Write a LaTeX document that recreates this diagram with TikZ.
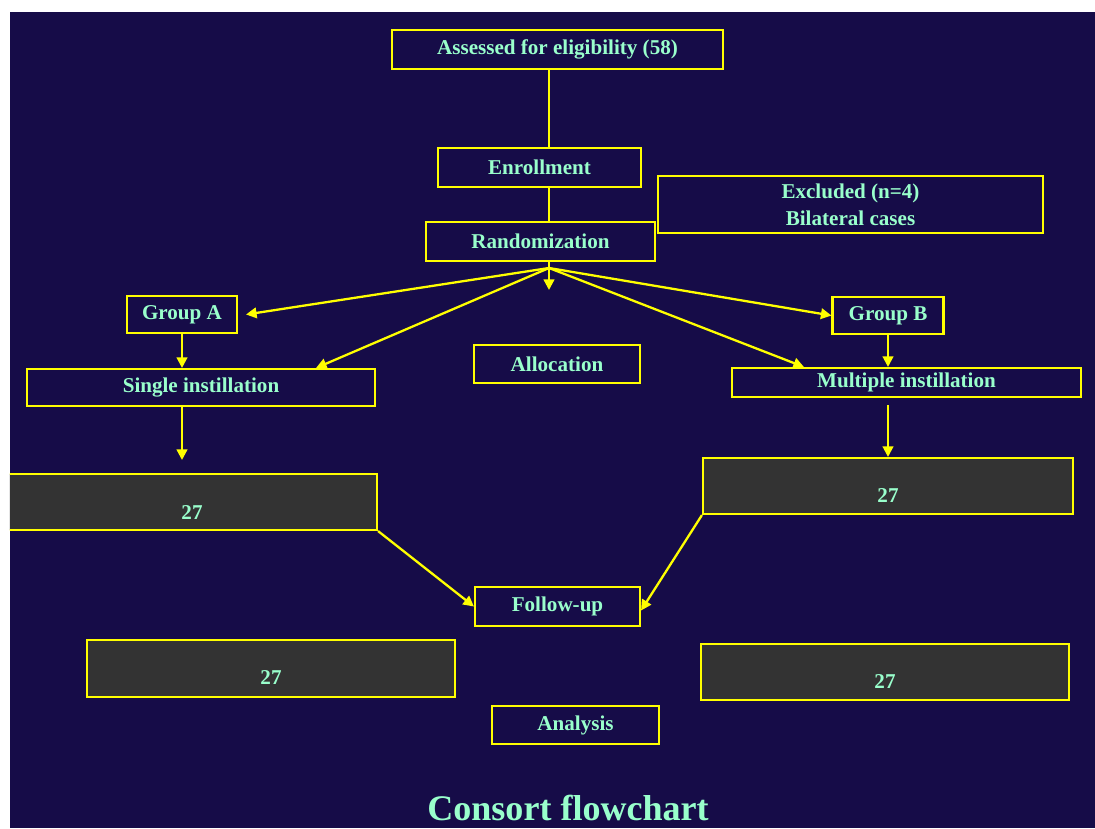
\documentclass[tikz,border=0pt]{standalone}
\usepackage{fontspec}
\setmainfont{Liberation Serif}
\usetikzlibrary{arrows.meta,calc}
\definecolor{slidebg}{RGB}{22,12,72}
\definecolor{boxline}{RGB}{255,255,0}
\definecolor{boxtext}{RGB}{153,255,204}
\definecolor{boxfill}{RGB}{51,51,51}

\begin{document}
\begin{tikzpicture}[
    box/.style={draw=boxline, line width=1.2pt, text=boxtext, font=\fontsize{12}{15.3}\selectfont\bfseries, align=center, inner sep=0pt},
    numbox/.style={box, fill=boxfill},
    numlabel/.style={text=boxtext, font=\fontsize{12}{15.3}\selectfont\bfseries, inner sep=0pt},
    link/.style={draw=boxline, line width=1.3pt},
    arrow/.style={link, -{Triangle[length=6pt,width=6pt]}}
]

        % Slide background, white strip at top and left
        \useasboundingbox (0,0) rectangle (21.9,-16.56);
        \fill[white] (0,0) rectangle (21.9,-16.56);
        \fill[slidebg] (0.2,-0.24) rectangle (21.9,-16.56);
        \clip (0.2,-0.24) rectangle (21.9,-16.56);

        % Top column: eligibility, enrollment, randomization
        \node[box, minimum width=6.62cm, minimum height=0.78cm] (elig) at (11.15, -0.99) {Assessed for eligibility (58)};
        \node[box, minimum width=4.06cm, minimum height=0.78cm] (enrol) at (10.79, -3.35) {Enrollment};
        \node[box, minimum width=7.70cm, minimum height=1.14cm] (excl) at (17.01, -4.09) {Excluded (n=4)\\Bilateral cases};
        \node[box, minimum width=4.58cm, minimum height=0.78cm] (rand) at (10.81, -4.83) {Randomization};

        % Allocation row
        \node[box, minimum width=2.20cm, minimum height=0.74cm] (grpa) at (3.64, -6.29) {Group A};
        \node[box, minimum width=2.22cm, minimum height=0.74cm] (grpb) at (17.76, -6.31) {Group B};
        \node[box, minimum width=3.32cm, minimum height=0.76cm] (alloc) at (11.14, -7.28) {Allocation};
        \node[box, minimum width=6.96cm, minimum height=0.74cm] (single) at (4.02, -7.75) {Single instillation};
        \node[box, minimum width=6.98cm, minimum height=0.58cm] (multi) at (18.13, -7.65) {Multiple instillation};

        % Follow-up row
        \node[numbox, minimum width=7.74cm, minimum height=1.12cm,
              label={[numlabel, xshift=0.17cm, yshift=-0.22cm]center:27}] (leftn) at (3.67, -10.04) {};
        \node[numbox, minimum width=7.40cm, minimum height=1.12cm,
              label={[numlabel, yshift=-0.20cm]center:27}] (rightn) at (17.76, -9.72) {};
        \node[box, minimum width=3.30cm, minimum height=0.78cm] (follow) at (11.15, -12.13) {Follow-up};

        % Analysis row
        \node[numbox, minimum width=7.36cm, minimum height=1.14cm,
              label={[numlabel, yshift=-0.19cm]center:27}] (leftan) at (5.42, -13.37) {};
        \node[numbox, minimum width=7.36cm, minimum height=1.12cm,
              label={[numlabel, yshift=-0.20cm]center:27}] (rightan) at (17.70, -13.44) {};
        \node[box, minimum width=3.34cm, minimum height=0.76cm] (anal) at (11.51, -14.50) {Analysis};

        % Title
        \node[text=boxtext, font=\fontsize{20.5}{24}\selectfont\bfseries] (title) at (11.36, -16.16) {Consort flowchart};

        % Connectors
        \coordinate (hub) at (10.98, -5.36);
        \coordinate (allocend) at (10.98, -5.80);
        \coordinate (singleend) at (3.64, -9.20);

        \draw[link] (elig.south -| hub) -- (enrol.north -| hub);
        \draw[link] (enrol.south -| hub) -- (rand.north -| hub);
        \draw[arrow] (rand.south -| hub) -- (allocend);
        \draw[arrow] (hub) -- ([xshift=0.16cm]grpa.east);
        \draw[arrow] (hub) -- ([xshift=-1.2cm]single.north east);
        \draw[arrow] (hub) -- (grpb.west);
        \draw[arrow] (hub) -- ([xshift=1.46cm]multi.north west);
        \draw[arrow] (grpa.south) -- (grpa.south |- single.north);
        \draw[arrow] (single.south -| grpa.south) -- (singleend);
        \draw[arrow] (grpb.south) -- (grpb.south |- multi.north);
        \draw[arrow] ([yshift=-0.14cm]multi.south -| rightn.north) -- (rightn.north);
        \draw[arrow] (leftn.south east) -- (follow.west);
        \draw[arrow] (rightn.south west) -- ([yshift=-0.08cm]follow.east);

\end{tikzpicture}
\end{document}
